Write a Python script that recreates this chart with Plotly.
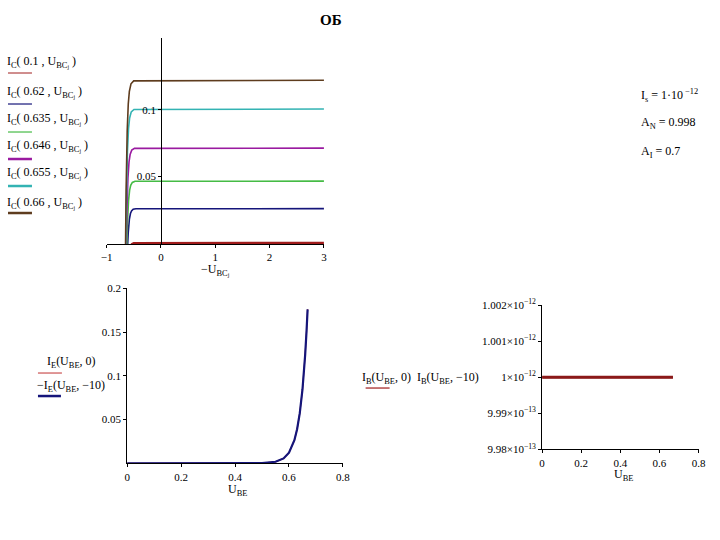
import plotly.graph_objects as go

W, H = 720, 540
FONT = "Liberation Serif"

# ---------- data: top chart (I_C vs -U_BC) ----------
ube_labels = ["0.1", "0.62", "0.635", "0.646", "0.655", "0.66"]
colors = ["#a01c1c", "#15157a", "#45bb45", "#9a1aa0", "#33b3b3", "#5e3c1e"]

x_red = [-0.60, -0.56, -0.53, -0.50, 3.0]
y_red = [-0.018, -0.0033, -0.0008, -0.0002, 0.0]

x_navy = [-0.651, -0.631, -0.611, -0.601, -0.591, -0.581, -0.561, -0.541, -0.511, -0.461, 3.0]
y_navy = [-0.0958, -0.0303, 0.0, 0.0083, 0.0140, 0.0178, 0.0222, 0.0242, 0.0254, 0.0258, 0.0259]

x_green = [-0.666, -0.646, -0.626, -0.616, -0.606, -0.596, -0.576, -0.556, -0.526, -0.476, 3.0]
y_green = [-0.172, -0.0544, 0.0, 0.0149, 0.0251, 0.0319, 0.0398, 0.0434, 0.0455, 0.0464, 0.0465]

x_mag = [-0.677, -0.657, -0.637, -0.627, -0.617, -0.607, -0.587, -0.567, -0.537, -0.487, 3.0]
y_mag = [-0.263, -0.0833, 0.0, 0.0229, 0.0384, 0.0489, 0.0609, 0.0664, 0.0697, 0.0710, 0.0712]

x_cyan = [-0.686, -0.666, -0.646, -0.636, -0.626, -0.616, -0.596, -0.576, -0.546, -0.496, 3.0]
y_cyan = [-0.372, -0.118, 0.0, 0.0323, 0.0542, 0.0690, 0.0860, 0.0938, 0.0984, 0.1002, 0.1005]

x_brown = [-0.691, -0.671, -0.651, -0.641, -0.631, -0.621, -0.601, -0.581, -0.551, -0.501, 3.0]
y_brown = [-0.451, -0.143, 0.0, 0.0392, 0.0658, 0.0838, 0.1044, 0.1138, 0.1194, 0.1216, 0.122]

top_x_ticks = [-1, 0, 1, 2, 3]
top_x_ticktext = ["\u22121", "0", "1", "2", "3"]
top_y_ticks = [0.05, 0.1]
top_y_ticktext = ["0.05", "0.1"]

# ---------- data: bottom-left (I_E vs U_BE) ----------
u_be = [0.0, 0.1, 0.2, 0.3, 0.4, 0.5, 0.55, 0.58, 0.60, 0.62, 0.63, 0.64, 0.65, 0.655, 0.66, 0.665, 0.669]
ie_ubc0 = [0.0, 0.0, 0.0, 0.0, 0.00001, 0.000255, 0.00176, 0.00563, 0.0122, 0.0264, 0.0389, 0.0573, 0.0844, 0.1024, 0.1243, 0.1508, 0.176]
ie_ubcm10 = [0.0, 0.0, 0.0, 0.0, 0.00001, 0.000255, 0.00176, 0.00563, 0.0122, 0.0264, 0.0389, 0.0573, 0.0844, 0.1024, 0.1243, 0.1508, 0.176]
bl_x_ticks = [0, 0.2, 0.4, 0.6, 0.8]
bl_x_ticktext = ["0", "0.2", "0.4", "0.6", "0.8"]
bl_y_ticks = [0.05, 0.1, 0.15, 0.2]
bl_y_ticktext = ["0.05", "0.1", "0.15", "0.2"]

# ---------- data: bottom-right (I_B vs U_BE) ----------
u_be_b = [0.0, 0.669]
ib_ubc0 = [1e-12, 1e-12]
ib_ubcm10 = [1e-12, 1e-12]
br_y_ticks = [9.98e-13, 9.99e-13, 1e-12, 1.001e-12, 1.002e-12]
br_y_ticktext = ["9.98\u00d710<sup>\u221213</sup>", "9.99\u00d710<sup>\u221213</sup>",
                 "1\u00d710<sup>\u221212</sup>", "1.001\u00d710<sup>\u221212</sup>",
                 "1.002\u00d710<sup>\u221212</sup>"]

# page-pixel -> paper conversion (compensates the small offset/scale seen
# in the photographed page)
AX, SX = 5.0, 0.983
AY, SY = 8.0, 0.974


def px(x):
    return (x - AX) / SX / W


def py(y):
    return 1 - (y - AY) / SY / H


fig = go.Figure()

top_series = [(x_red, y_red), (x_navy, y_navy), (x_green, y_green),
              (x_mag, y_mag), (x_cyan, y_cyan), (x_brown, y_brown)]
for i, (xs, ys) in enumerate(top_series):
    fig.add_trace(go.Scatter(x=xs, y=ys, mode="lines", xaxis="x", yaxis="y",
                             line=dict(color=colors[i], width=3 if i == 0 else 1.6),
                             showlegend=False, hoverinfo="skip"))

fig.add_trace(go.Scatter(x=u_be, y=ie_ubc0, mode="lines", xaxis="x2", yaxis="y2",
                         line=dict(color="#c03030", width=1.2), showlegend=False))
fig.add_trace(go.Scatter(x=u_be, y=ie_ubcm10, mode="lines", xaxis="x2", yaxis="y2",
                         line=dict(color="#15157a", width=2.2), showlegend=False))

fig.add_trace(go.Scatter(x=u_be_b, y=ib_ubc0, mode="lines", xaxis="x3", yaxis="y3",
                         line=dict(color="#8b1a1a", width=3), showlegend=False))
fig.add_trace(go.Scatter(x=u_be_b, y=ib_ubcm10, mode="lines", xaxis="x3", yaxis="y3",
                         line=dict(color="#8b1a1a", width=2), showlegend=False))

axfont = dict(family=FONT, size=11, color="black")
common = dict(showgrid=False, zeroline=False, showline=True, linecolor="black",
              linewidth=1, ticks="outside", ticklen=3, tickcolor="black",
              tickfont=axfont, tickmode="array")

fig.update_layout(
    width=W, height=H, autosize=False, margin=dict(l=0, r=0, t=0, b=0),
    paper_bgcolor="white", plot_bgcolor="white",
    font=dict(family=FONT, size=11, color="black"),
    xaxis=dict(domain=[px(105.7), px(323.3)], range=[-1, 3], anchor="y",
               tickvals=top_x_ticks, ticktext=top_x_ticktext,
               layer="below traces", **common),
    yaxis=dict(domain=[py(244), py(38)], range=[-0.0006, 0.1537], anchor="free",
               position=px(160.4), tickvals=top_y_ticks, ticktext=top_y_ticktext,
               **common),
    xaxis2=dict(domain=[px(126.3), px(342.3)], range=[0, 0.8], anchor="y2",
                tickvals=bl_x_ticks, ticktext=bl_x_ticktext, **common),
    yaxis2=dict(domain=[py(463.3), py(288.3)], range=[0, 0.2], anchor="x2",
                tickvals=bl_y_ticks, ticktext=bl_y_ticktext, **common),
    xaxis3=dict(domain=[px(541.7), px(698.3)], range=[0, 0.8], anchor="y3",
                tickvals=bl_x_ticks, ticktext=bl_x_ticktext, **common),
    yaxis3=dict(domain=[py(449.3), py(305)], range=[9.98e-13, 1.002e-12], anchor="x3",
                tickvals=br_y_ticks, ticktext=br_y_ticktext, **common),
)

ann = []
shapes = []


def text(x, y, s, size=11, anchor="left", bold=False):
    if bold:
        s = "<b>" + s + "</b>"
    ann.append(dict(x=px(x), y=py(y), xref="paper", yref="paper", text=s,
                    showarrow=False, xanchor=anchor, yanchor="middle",
                    font=dict(family=FONT, size=size, color="black")))


def sample(x0, x1, y, color, width):
    shapes.append(dict(type="line", xref="paper", yref="paper",
                       x0=px(x0), x1=px(x1), y0=py(y), y1=py(y),
                       line=dict(color=color, width=width)))


# title
text(330, 20, "ОБ", size=15, anchor="center", bold=True)

# top legend
leg_text_y = [62, 92, 119, 146, 173, 203]
leg_line_y = [73, 104, 132, 159, 186, 213]
leg_w = [1, 1.2, 1.2, 2.5, 2.5, 2.5]
for i, lab in enumerate(ube_labels):
    text(4, leg_text_y[i], "I<sub>C</sub>( " + lab + " , U<sub>BC<sub>j</sub></sub> )", size=12)
    sample(7, 31, leg_line_y[i], colors[i], leg_w[i])

# top x title
text(215, 270, "\u2212U<sub>BC<sub>j</sub></sub>", size=12, anchor="center")

# parameters
text(639, 95, "I<sub>s</sub> = 1\u00b710<sup> \u221212</sup>", size=12)
text(639, 123, "A<sub>N</sub> = 0.998", size=12)
text(639, 152, "A<sub>I</sub> = 0.7", size=12)

# bottom-left legend & title
text(44, 362, "I<sub>E</sub>(U<sub>BE</sub>, 0)", size=12)
sample(37, 61, 373, "#c03030", 1)
text(34, 386, "\u2212I<sub>E</sub>(U<sub>BE</sub>, \u221210)", size=12)
sample(37, 60, 396, "#15157a", 2.5)
text(237, 490, "U<sub>BE</sub>", size=12, anchor="center")

# bottom-right legend & title
text(359, 378, "I<sub>B</sub>(U<sub>BE</sub>, 0)  I<sub>B</sub>(U<sub>BE</sub>, \u221210)", size=12)
sample(365, 389, 388, "#a01c1c", 1.2)
text(623, 475, "U<sub>BE</sub>", size=12, anchor="center")

fig.update_layout(annotations=ann, shapes=shapes)

fig.write_html("out.html")
